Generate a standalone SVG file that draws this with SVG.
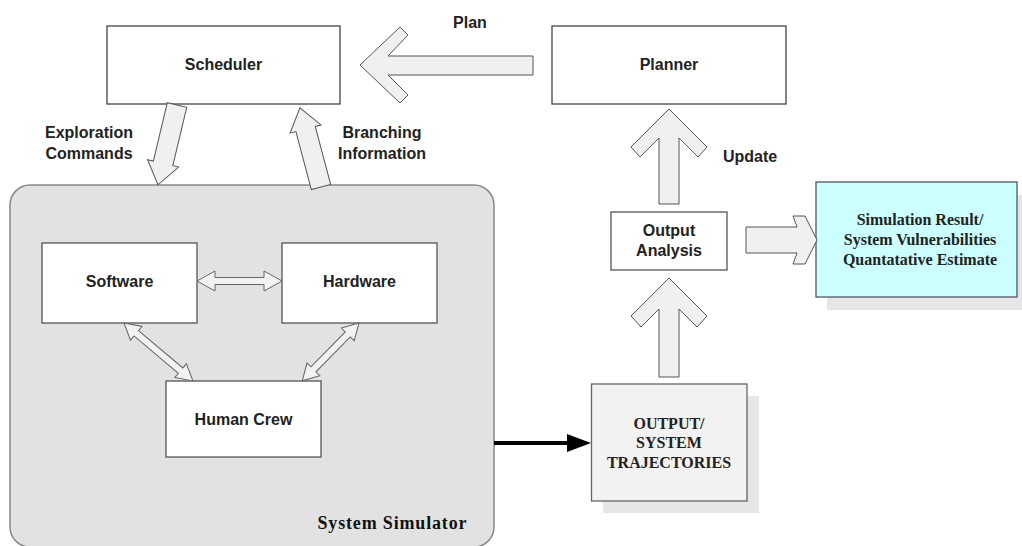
<svg xmlns="http://www.w3.org/2000/svg" width="1022" height="546" viewBox="0 0 1022 546">
<style>
.box{fill:#ffffff;stroke:#444;stroke-width:1.3}
.inner{fill:#ffffff;stroke:#555;stroke-width:1.3}
.blk{fill:#f0f0f0;stroke:#555;stroke-width:1}
.dbl{fill:#f2f2f2;stroke:#666;stroke-width:1}
.lbl{font-family:"Liberation Sans",Arial,sans-serif;font-weight:bold;font-size:16px;fill:#222;text-anchor:middle}
.ser{font-family:"Liberation Serif","Times New Roman",serif;font-weight:bold;font-size:16px;fill:#222;text-anchor:middle}
.shadow{fill:#e6e6e6}
</style>
<rect width="1022" height="546" fill="#ffffff"/>

<g id="system-simulator">
  <rect x="10" y="185" width="484" height="362" rx="20" ry="20" fill="#e2e2e2" stroke="#888" stroke-width="1.5"/>
  <text x="392" y="529" font-family="'Liberation Serif','Times New Roman',serif" font-weight="bold" font-size="18" fill="#111" text-anchor="middle" textLength="149" lengthAdjust="spacing">System Simulator</text>
</g>

<g id="scheduler">
  <rect class="box" x="107" y="26" width="233" height="78"/>
  <text class="lbl" x="223.5" y="70">Scheduler</text>
</g>

<g id="planner">
  <rect class="box" x="552" y="26" width="234" height="78"/>
  <text class="lbl" x="669" y="70">Planner</text>
</g>

<g id="software">
  <rect class="inner" x="42" y="243" width="155" height="80"/>
  <text class="lbl" x="119.5" y="287">Software</text>
</g>

<g id="hardware">
  <rect class="inner" x="282" y="243" width="155" height="80"/>
  <text class="lbl" x="359.5" y="287">Hardware</text>
</g>

<g id="human-crew">
  <rect class="inner" x="166" y="381" width="155" height="76"/>
  <text class="lbl" x="243.5" y="425">Human Crew</text>
</g>

<g id="output-analysis">
  <rect class="inner" x="611" y="212" width="116" height="58"/>
  <text class="lbl" x="669" y="236">Output</text>
  <text class="lbl" x="669" y="256">Analysis</text>
</g>

<g id="output-trajectories">
  <rect class="shadow" x="603" y="396" width="156" height="117"/>
  <rect x="591.5" y="384" width="155.5" height="117" fill="#f2f2f2" stroke="#666" stroke-width="1.3"/>
  <text class="ser" x="669" y="429">OUTPUT/</text>
  <text class="ser" x="669" y="448">SYSTEM</text>
  <text class="ser" x="669" y="468">TRAJECTORIES</text>
</g>

<g id="simulation-result">
  <rect class="shadow" x="827" y="195" width="201" height="115"/>
  <rect x="816" y="182" width="201" height="115" fill="#ccffff" stroke="#556" stroke-width="1.3"/>
  <text class="ser" x="920" y="225">Simulation Result/</text>
  <text class="ser" x="920" y="245">System Vulnerabilities</text>
  <text class="ser" x="920" y="265">Quantatative Estimate</text>
</g>

<g id="connectors">
  <!-- Plan: Planner -> Scheduler -->
  <polygon class="blk" points="360,65 400,27 408,35 388,56 533,56 533,75 388,75 408,95 400,103"/>
  <text class="lbl" x="470" y="28">Plan</text>

  <!-- Exploration Commands: Scheduler -> System Simulator -->
  <g transform="translate(177,105) rotate(103.4)">
    <polygon class="blk" points="0,-10 60,-10 60,-16 82,0 60,16 60,10 0,10"/>
  </g>
  <text class="lbl" x="89" y="138">Exploration</text>
  <text class="lbl" x="89" y="159">Commands</text>

  <!-- Branching Information: System Simulator -> Scheduler -->
  <g transform="translate(321,187) rotate(-104.9)">
    <polygon class="blk" points="0,-10 60,-10 60,-16 82,0 60,16 60,10 0,10"/>
  </g>
  <text class="lbl" x="382" y="138">Branching</text>
  <text class="lbl" x="382" y="159">Information</text>

  <!-- Software <-> Hardware -->
  <g transform="translate(197,281)">
    <polygon class="dbl" points="0,0 18,-10 18,-3.5 67,-3.5 67,-10 85,0 67,10 67,3.5 18,3.5 18,10"/>
  </g>
  <!-- Software <-> Human Crew -->
  <g transform="translate(124,323) rotate(40.05)">
    <polygon class="dbl" points="0,0 16,-9 16,-3.5 74,-3.5 74,-9 90,0 74,9 74,3.5 16,3.5 16,9"/>
  </g>
  <!-- Hardware <-> Human Crew -->
  <g transform="translate(359,323) rotate(134.5)">
    <polygon class="dbl" points="0,0 16,-9 16,-3.5 65,-3.5 65,-9 81,0 65,9 65,3.5 16,3.5 16,9"/>
  </g>

  <!-- System Simulator -> Output/System Trajectories -->
  <line x1="494" y1="443" x2="570" y2="443" stroke="#000" stroke-width="4"/>
  <polygon points="567,434 591,443 567,452" fill="#000"/>

  <!-- Trajectories -> Output Analysis -->
  <polygon class="blk" points="669,278 707,316 697,327 679,309 679,377 659,377 659,309 641,327 631,316"/>

  <!-- Update: Output Analysis -> Planner -->
  <polygon class="blk" points="669,109 707,147 698,157 679,138 679,204 659,204 659,138 640,157 631,147"/>
  <text x="723" y="162" font-family="'Liberation Sans',Arial,sans-serif" font-weight="bold" font-size="16" fill="#222">Update</text>

  <!-- Output Analysis -> Simulation Result -->
  <polygon class="blk" points="746,227 797,227 793,216 805,216 817,240 805,264 793,264 797,253 746,253"/>
</g>
</svg>
